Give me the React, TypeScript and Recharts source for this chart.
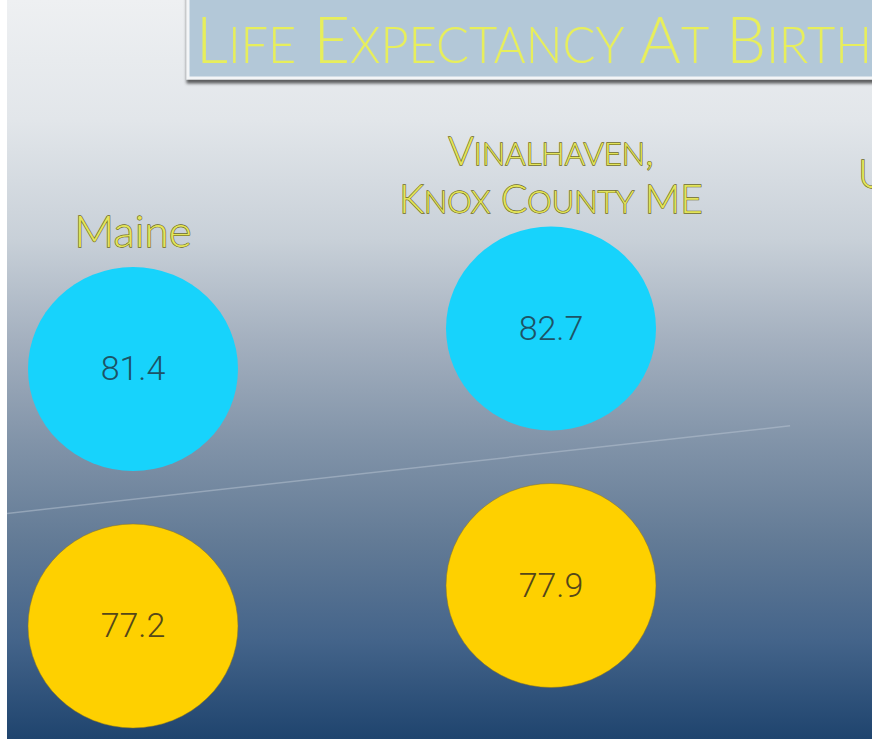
import React from 'react';
import { ScatterChart, Scatter, XAxis, YAxis, ReferenceLine } from 'recharts';

// --- Data ---
const categories = ['Maine', 'Vinalhaven,|Knox County ME', 'United States'];
const femaleLifeExp = [81.4, 82.7];
const maleLifeExp = [77.2, 77.9];
const title = 'Life Expectancy At Birth';

// --- Layout ---
const VIEW_W = 865;
const CHART_W = 1088;
const H = 739;
const TILT = 40.5; // px the slide layout rises per column
const LABEL_BASELINES = [[247], [165, 213], [188]];
const LABEL_SMALL_CAPS = [false, true, true];
const LABEL_DX = [0, 0, 8];
const DIVIDER = [{ x: -0.3014, y: 0.438 }, { x: 1.572, y: 0.779 }];

const femaleData = femaleLifeExp.map((v, i) => ({ x: i, y: 1, value: v }));
const maleData = maleLifeExp.map((v, i) => ({ x: i, y: 0, value: v }));

const smallCapsRuns = (text: string, big: number, small: number) => {
  const runs: { t: string; s: number }[] = [];
  for (const ch of text) {
    const lower = ch !== ch.toUpperCase();
    const s = lower ? small : big;
    const last = runs[runs.length - 1];
    if (last && last.s === s) last.t += ch.toUpperCase();
    else runs.push({ t: ch.toUpperCase(), s });
  }
  return runs.map((r, i) => (
    <tspan key={i} fontSize={r.s}>
      {r.t}
    </tspan>
  ));
};

const CategoryTick = (props: any) => {
  const { x, payload } = props;
  const i = payload.value as number;
  const lines = categories[i].split('|');
  return (
    <g>
      {lines.map((line, j) => (
        <text
          key={j}
          x={x + LABEL_DX[i]}
          y={LABEL_BASELINES[i][j]}
          textAnchor="middle"
          fontFamily="Lato, 'Open Sans', sans-serif"
          fontWeight={300}
          fontSize={LABEL_SMALL_CAPS[i] ? 39 : 44}
          fill="#e3e45a"
          stroke="#6f6c22"
          strokeWidth={1.3}
          paintOrder="stroke"
        >
          {LABEL_SMALL_CAPS[i] ? smallCapsRuns(line, 39, 31) : line}
        </text>
      ))}
    </g>
  );
};

const Bubble = (props: any) => {
  const { cx, cy, payload, color, textColor, edge } = props;
  const y = cy - payload.x * TILT;
  return (
    <g>
      <ellipse
        cx={cx}
        cy={y}
        rx={105}
        ry={102}
        fill={color}
        stroke={edge || 'none'}
        strokeWidth={1}
        strokeOpacity={0.5}
      />
      <text
        x={cx}
        y={y + 11}
        textAnchor="middle"
        fontFamily="Roboto, 'Open Sans', sans-serif"
        fontWeight={300}
        fontSize={34}
        fill={textColor}
      >
        {payload.value.toFixed(1)}
      </text>
    </g>
  );
};

export default function App() {
  return (
    <div style={{ position: 'absolute', left: 0, top: 0, width: 872, height: H, background: '#fff' }}>
      <div
        style={{
          position: 'absolute',
          left: 7,
          top: 0,
          width: VIEW_W,
          height: H,
          overflow: 'hidden',
          background:
            'linear-gradient(180deg, #eef0f2 0px, #e2e6ea 120px, #c8d0d8 240px, #a4b0bf 340px, #8294a9 440px, #637b96 540px, #44648a 640px, #1f446e 739px)',
        }}
      >
        <ScatterChart width={CHART_W} height={H} margin={{ top: 368, right: 126, bottom: 113, left: 126 }}>
          <defs>
            <filter id="boxShadow" x="-5%" y="-20%" width="110%" height="150%">
              <feDropShadow dx={0} dy={4} stdDeviation={1.6} floodColor="#000" floodOpacity={0.6} />
            </filter>
          </defs>
          <XAxis
            type="number"
            dataKey="x"
            orientation="top"
            domain={[0, 2]}
            ticks={[0, 1, 2]}
            interval={0}
            axisLine={false}
            tickLine={false}
            height={1}
            tick={<CategoryTick />}
          />
          <YAxis type="number" dataKey="y" domain={[0, 1]} hide />
          <ReferenceLine
            segment={DIVIDER}
            ifOverflow="visible"
            stroke="#b9c6d4"
            strokeOpacity={0.5}
            strokeWidth={1.5}
          />
          <Scatter
            data={femaleData}
            fill="#17d3fc"
            isAnimationActive={false}
            shape={(p: any) => <Bubble {...p} color="#17d3fc" textColor="#1d5366" />}
          />
          <Scatter
            data={maleData}
            fill="#fed000"
            isAnimationActive={false}
            shape={(p: any) => <Bubble {...p} color="#fed000" textColor="#54471a" edge="#8a7620" />}
          />
          <g>
            <rect
              x={181}
              y={-10}
              width={720}
              height={88}
              fill="#b3c8d8"
              stroke="#f3f5f7"
              strokeWidth={3}
              filter="url(#boxShadow)"
            />
            <text
              x={189}
              y={63}
              textLength={676}
              lengthAdjust="spacingAndGlyphs"
              fontFamily="Lato, 'Open Sans', sans-serif"
              fontWeight={300}
              fill="#e7ee5c"
            >
              {smallCapsRuns(title, 66, 51)}
            </text>
          </g>
        </ScatterChart>
      </div>
    </div>
  );
}
